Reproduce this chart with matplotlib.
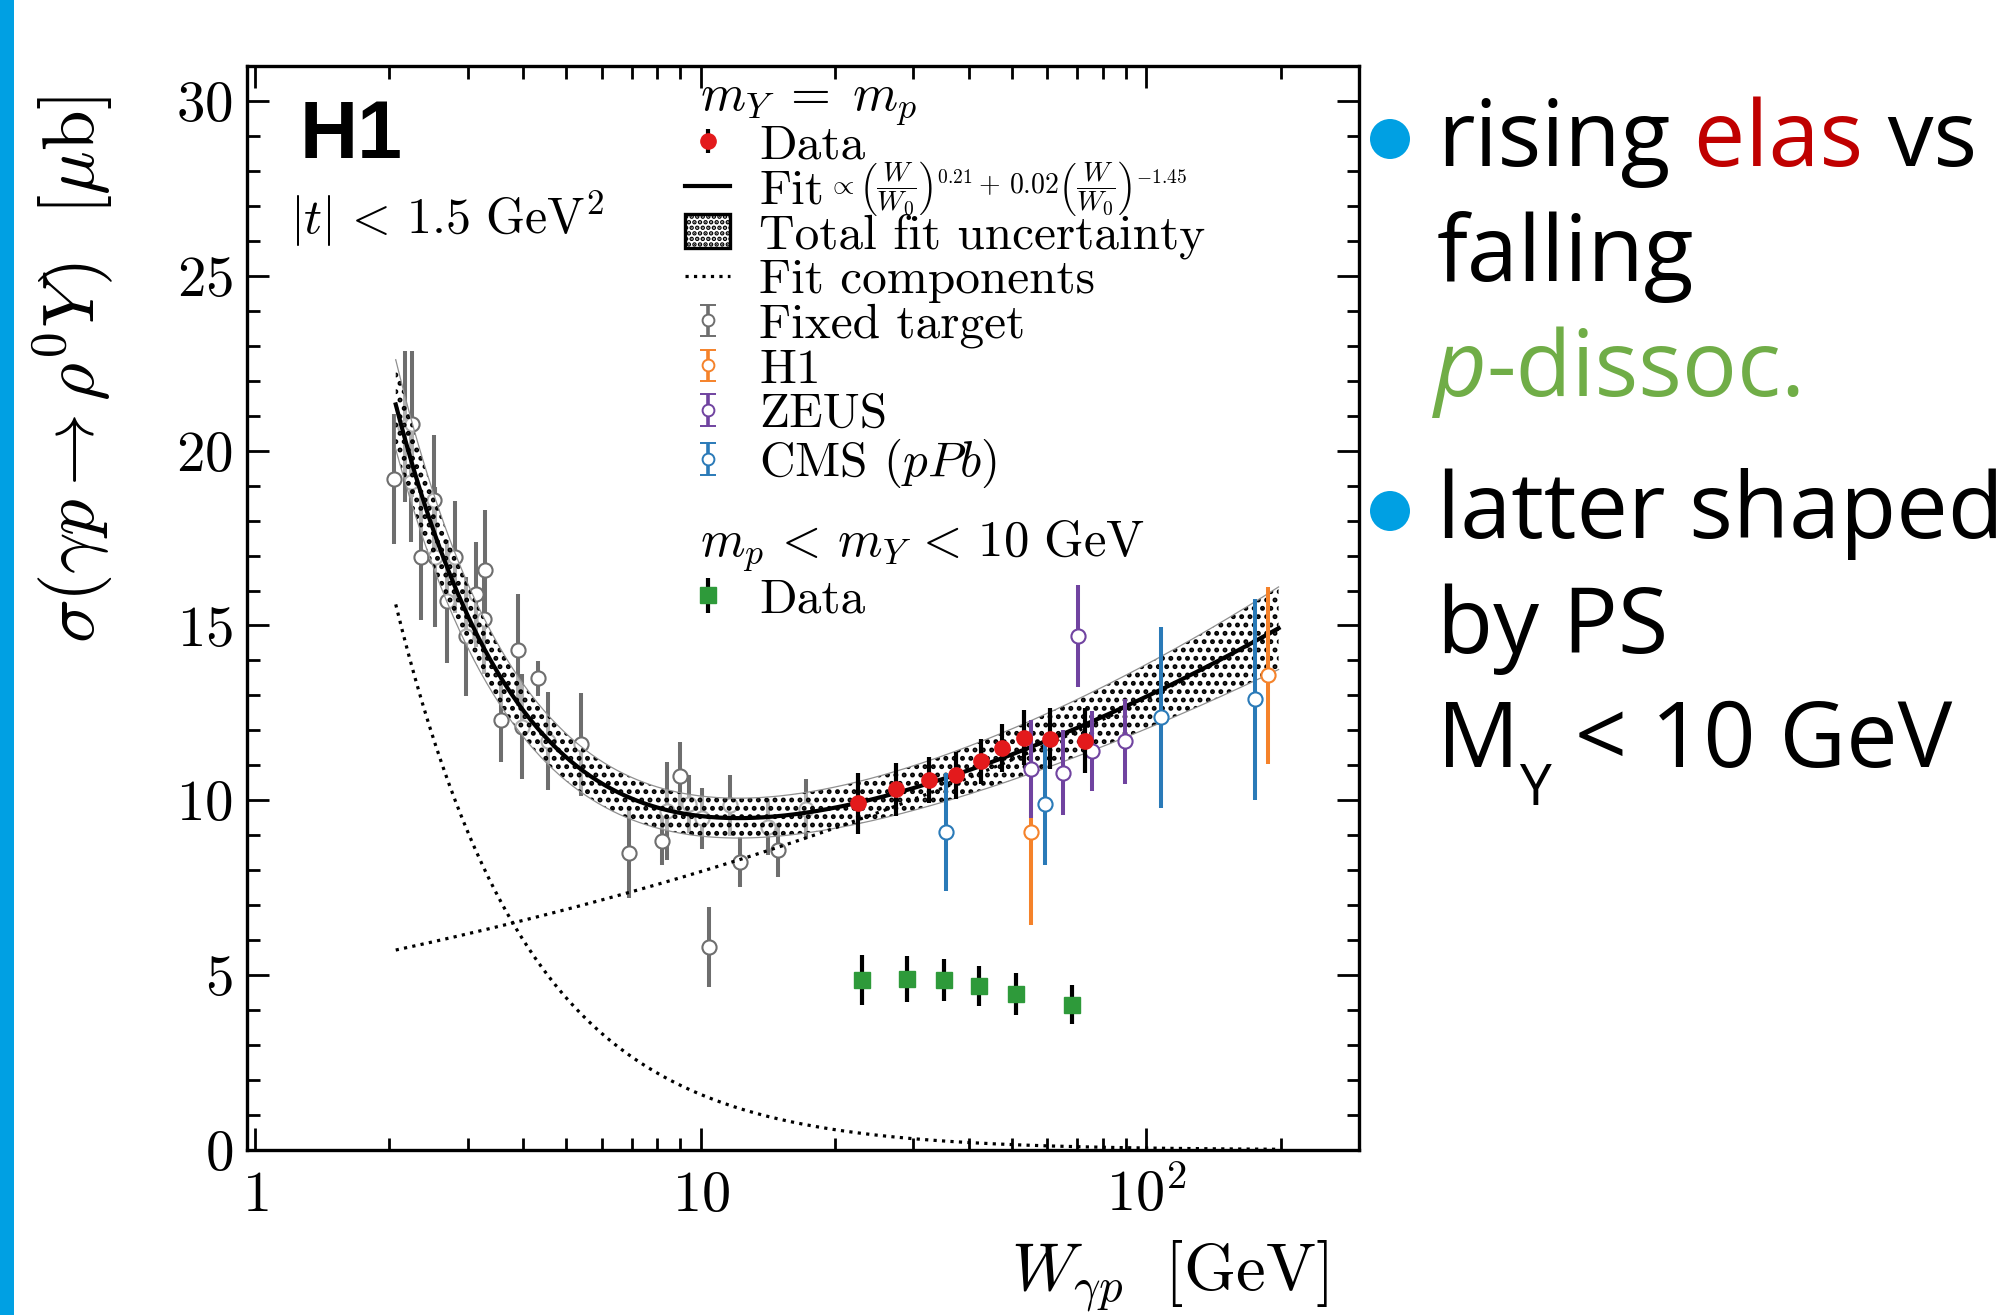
import numpy as np
import matplotlib
matplotlib.use("Agg")
import matplotlib.pyplot as plt
import matplotlib.patches as mpatches
from matplotlib.text import Annotation
from matplotlib.legend_handler import HandlerErrorbar
from matplotlib.ticker import FixedLocator, LogLocator, MultipleLocator, NullFormatter

# ---------------- data ----------------
# fixed-target measurements
ft_W = [2.05, 2.17, 2.25, 2.24, 2.36, 2.52, 2.53, 2.70, 2.81, 2.97,
        3.13, 3.26, 3.29, 3.57, 3.89, 3.98, 4.32, 4.55, 5.40, 6.90,
        8.19, 8.40, 8.97, 9.44, 10.06, 10.42, 11.63, 12.23, 14.2, 14.9, 17.2]
ft_sig = [19.19, 20.68, 20.76, 19.10, 16.97, 18.59, 16.97, 15.69, 16.97, 14.69,
          15.89, 15.19, 16.59, 12.30, 14.29, 12.10, 13.49, 11.70, 11.60, 8.49,
          8.83, 9.70, 10.69, 9.90, 9.49, 5.81, 9.86, 8.24, 9.24, 8.59, 9.76]
ft_err = [1.85, 2.16, 2.08, 1.72, 1.80, 1.85, 2.00, 1.76, 1.60, 1.70,
          1.50, 1.57, 1.70, 1.20, 1.60, 1.50, 0.50, 1.40, 1.48, 1.28,
          0.68, 1.40, 0.98, 0.83, 0.87, 1.14, 0.87, 0.72, 0.80, 0.77, 0.86]

# H1 (earlier) measurements
h1old_W = [55.0, 187.0]
h1old_sig = [9.10, 13.57]
h1old_err = [2.67, 2.52]

# ZEUS measurements
zeus_W = [55.0, 64.9, 70.2, 75.4, 89.7]
zeus_sig = [10.90, 10.79, 14.69, 11.41, 11.69]
zeus_err = [1.40, 1.21, 1.46, 1.14, 1.22]

# CMS (pPb) measurements
cms_W = [35.6, 59.1, 107.9, 175.5]
cms_sig = [9.10, 9.89, 12.38, 12.89]
cms_err = [1.68, 1.74, 2.59, 2.88]

# this analysis, elastic (m_Y = m_p)
el_W = [22.6, 27.5, 32.5, 37.4, 42.6, 47.5, 53.1, 60.9, 73.0]
el_sig = [9.92, 10.31, 10.57, 10.71, 11.12, 11.50, 11.79, 11.76, 11.71]
el_err = [0.87, 0.77, 0.66, 0.67, 0.64, 0.69, 0.79, 0.87, 0.93]

# this analysis, proton dissociative (m_p < m_Y < 10 GeV)
pd_W = [23.0, 29.1, 35.1, 42.1, 51.0, 68.0]
pd_sig = [4.86, 4.89, 4.86, 4.69, 4.46, 4.16]
pd_err = [0.71, 0.66, 0.60, 0.57, 0.59, 0.55]

# fit model (from the legend): N[(W/W0)^0.21 + 0.02 (W/W0)^-1.45]
FIT_NORM = 10.65
FIT_W0 = 40.0
FIT_EXP_RISE = 0.21
FIT_FRAC = 0.02
FIT_EXP_FALL = -1.45
FIT_WMIN, FIT_WMAX = 2.07, 198.0
BAND_REL0, BAND_SLOPE, BAND_PIVOT = 0.06, 0.020, 15.0

x_ticks = [1, 10, 100]
x_ticklabels = [r'$1$', r'$10$', r'$10^2$']

# ---------------- style ----------------
GRAY = '#6e6e6e'
RED = '#e31a1c'
GREEN = '#2e9a3a'
ORANGE = '#f5822a'
PURPLE = '#7043a0'
BLUE = '#2a7ab8'
SLIDE_BLUE = '#00a0e3'

plt.rcParams['mathtext.fontset'] = 'cm'
plt.rcParams['font.family'] = ['cmr10', 'DejaVu Serif']
plt.rcParams['axes.unicode_minus'] = False
plt.rcParams['axes.formatter.use_mathtext'] = True
plt.rcParams['hatch.linewidth'] = 2.3

FW, FH = 2005, 1315
fig = plt.figure(figsize=(FW / 100, FH / 100), dpi=100)
fig.patch.set_facecolor('white')

def fx(px):
    return px / FW

def fy(py):
    return 1 - py / FH

AX_L, AX_R, AX_T, AX_B = 247, 1359, 66, 1150
ax = fig.add_axes([fx(AX_L), fy(AX_B), (AX_R - AX_L) / FW, (AX_B - AX_T) / FH])

def axx(px):
    return (px - AX_L) / (AX_R - AX_L)

def axy(py):
    return (AX_B - py) / (AX_B - AX_T)

# left slide bar
fig.add_artist(mpatches.Rectangle((0, 0), fx(14), 1, transform=fig.transFigure,
                                  color=SLIDE_BLUE, lw=0))

# ---------------- fit curves ----------------
fit_W = np.logspace(np.log10(FIT_WMIN), np.log10(FIT_WMAX), 400)
xr = fit_W / FIT_W0
comp_rise = FIT_NORM * xr ** FIT_EXP_RISE
comp_fall = FIT_NORM * FIT_FRAC * xr ** FIT_EXP_FALL
fit_tot = comp_rise + comp_fall
rel = np.hypot(BAND_REL0, BAND_SLOPE * np.clip(np.log(fit_W / BAND_PIVOT), 0, None))
band_lo = fit_tot * (1 - rel)
band_hi = fit_tot * (1 + rel)

EB = dict(fmt='o', capsize=0, elinewidth=2.9)
MS_OPEN = 10.2

# fixed target (under the band)
ax.errorbar(ft_W, ft_sig, yerr=ft_err, ms=MS_OPEN, mfc='white', mec=GRAY, mew=1.5,
            ecolor=GRAY, zorder=2, **EB)

# uncertainty band
ax.fill_between(fit_W, band_lo, band_hi, facecolor=(1, 1, 1, 0.45), edgecolor='black',
                hatch='..', linewidth=0, zorder=3)
ax.plot(fit_W, band_lo, color='#909090', lw=0.9, zorder=3)
ax.plot(fit_W, band_hi, color='#909090', lw=0.9, zorder=3)

# fit components
comp_line, = ax.plot(fit_W, comp_rise, ls=':', color='black', lw=2.3, zorder=4)
ax.plot(fit_W, comp_fall, ls=':', color='black', lw=2.3, zorder=4)
# total fit
fit_line, = ax.plot(fit_W, fit_tot, color='black', lw=3.0, zorder=5)

# other experiments
ax.errorbar(h1old_W, h1old_sig, yerr=h1old_err, ms=MS_OPEN, mfc='white', mec=ORANGE,
            mew=1.5, ecolor=ORANGE, zorder=6, **EB)
ax.errorbar(zeus_W, zeus_sig, yerr=zeus_err, ms=MS_OPEN, mfc='white', mec=PURPLE,
            mew=1.5, ecolor=PURPLE, zorder=6, **EB)
ax.errorbar(cms_W, cms_sig, yerr=cms_err, ms=MS_OPEN, mfc='white', mec=BLUE,
            mew=1.5, ecolor=BLUE, zorder=6, **EB)

# this measurement
el_cont = ax.errorbar(el_W, el_sig, yerr=el_err, fmt='o', ms=11.0, mfc=RED, mec=RED,
                      ecolor='black', elinewidth=3.0, capsize=0, zorder=7)
pd_cont = ax.errorbar(pd_W, pd_sig, yerr=pd_err, fmt='s', ms=11.2, mfc=GREEN, mec=GREEN,
                      ecolor='black', elinewidth=3.0, capsize=0, zorder=7)

# legend proxies with caps
def proxy(col):
    return ax.errorbar([np.nan], [np.nan], yerr=[np.nan], fmt='o', ms=8.5, mfc='white',
                       mec=col, mew=1.4, ecolor=col, elinewidth=2.6, capsize=5.6,
                       capthick=2.6)

ft_p = proxy(GRAY)
h1_p = proxy(ORANGE)
zeus_p = proxy(PURPLE)
cms_p = proxy(BLUE)
band_p = mpatches.Patch(facecolor='white', edgecolor='black', hatch='...', lw=2.4)

# ---------------- axes formatting ----------------
ax.set_xscale('log')
ax.set_xlim(0.96, 300)
ax.set_ylim(0, 31)
ax.xaxis.set_major_locator(FixedLocator(x_ticks))
ax.set_xticklabels(x_ticklabels)
ax.xaxis.set_minor_locator(LogLocator(base=10, subs=np.arange(2, 10)))
ax.xaxis.set_minor_formatter(NullFormatter())
ax.yaxis.set_major_locator(MultipleLocator(5))
ax.yaxis.set_minor_locator(MultipleLocator(1))
ax.tick_params(which='both', direction='in', top=True, right=True, width=2.0)
ax.tick_params(which='major', length=16)
ax.tick_params(which='minor', length=9)
ax.tick_params(axis='y', labelsize=41, pad=10)
ax.tick_params(axis='x', labelsize=42, pad=44)
for lab in ax.get_xticklabels():
    lab.set_verticalalignment('baseline')
for sp in ax.spines.values():
    sp.set_linewidth(2.4)

ax.text(axx(73), axy(96), r'$\sigma(\gamma p \rightarrow \rho^0 Y)\ \ [\mu\mathrm{b}]$',
        transform=ax.transAxes, rotation=90, ha='center', va='top', fontsize=52.5)
ax.text(axx(1328), axy(1290), r'$W_{\gamma p}\ \ [\mathrm{GeV}]$', transform=ax.transAxes,
        ha='right', va='baseline', fontsize=48)

ax.text(axx(300), axy(158), 'H1', transform=ax.transAxes, ha='left', va='baseline',
        fontsize=58, fontweight='bold', family='Liberation Sans')
ax.text(axx(290), axy(234), r'$|t|\,<\,1.5\ \mathrm{GeV}^2$', transform=ax.transAxes,
        ha='left', va='baseline', fontsize=36)

# ---------------- legends ----------------
LEG_FS = 35.5
LEG = dict(loc='upper left', frameon=False, borderpad=0, borderaxespad=0,
           handlelength=0.92, handletextpad=0.59, labelspacing=0.0,
           prop=dict(size=LEG_FS))
leg1 = ax.legend([el_cont, fit_line, band_p, comp_line, ft_p, h1_p, zeus_p, cms_p],
                 ['Data', 'Fit', 'Total fit uncertainty', 'Fit components', 'Fixed target',
                  'H1', 'ZEUS', r'CMS ($pPb$)'],
                 bbox_to_anchor=(axx(685), axy(124)),
                 handler_map={el_cont: HandlerErrorbar(yerr_size=0.24),
                              ft_p: HandlerErrorbar(yerr_size=0.32),
                              h1_p: HandlerErrorbar(yerr_size=0.32),
                              zeus_p: HandlerErrorbar(yerr_size=0.32),
                              cms_p: HandlerErrorbar(yerr_size=0.32)},
                 **LEG)
ax.add_artist(leg1)
leg2 = ax.legend([pd_cont], ['Data'], bbox_to_anchor=(axx(685), axy(578)),
                 handler_map={pd_cont: HandlerErrorbar(yerr_size=0.36)}, **LEG)

ax.text(axx(700), axy(110), r'$m_Y\;=\;m_p$', transform=ax.transAxes, ha='left',
        va='baseline', fontsize=37)
ax.text(axx(700), axy(556), r'$m_p\,<\,m_Y\,<\,10\ \mathrm{GeV}$', transform=ax.transAxes,
        ha='left', va='baseline', fontsize=36.5)

fit_txt = leg1.get_texts()[1]
fa = Annotation(r'$\propto\left(\dfrac{W}{W_0}\right)^{0.21}+\,0.02\left(\dfrac{W}{W_0}\right)^{-1.45}$',
                xy=(1, 0.5), xycoords=fit_txt, xytext=(4, 2), textcoords='offset pixels',
                ha='left', va='center', fontsize=20)
fig.add_artist(fa)

# ---------------- slide text on the right ----------------
RT_FONT = 'Open Sans'
RT_SIZE = 66
TX = 1437

def chain(prev, s, color, style='normal', size=RT_SIZE, dy=0, yref=None):
    a = Annotation(s, xy=(1, 0), xycoords=(prev, yref if yref is not None else prev),
                   xytext=(0, dy), textcoords='offset pixels', ha='left', va='bottom',
                   fontsize=size, family=RT_FONT, color=color, style=style)
    fig.add_artist(a)
    return a

t1 = fig.text(fx(TX), fy(166), 'rising', family=RT_FONT, fontsize=RT_SIZE, va='baseline')
t1b = chain(t1, ' elas', '#c00000')
chain(t1b, ' vs', 'black')
fig.text(fx(TX), fy(281), 'falling', family=RT_FONT, fontsize=RT_SIZE, va='baseline')
t3 = fig.text(fx(TX - 3), fy(396), 'p', family=RT_FONT, fontsize=RT_SIZE, va='baseline',
              color='#70ad47', style='italic')
chain(t3, '-dissoc.', '#70ad47')
fig.text(fx(TX), fy(538), 'latter shaped', family=RT_FONT, fontsize=RT_SIZE, va='baseline')
fig.text(fx(TX), fy(653), 'by PS', family=RT_FONT, fontsize=RT_SIZE, va='baseline')
t6 = fig.text(fx(TX), fy(767), 'M', family=RT_FONT, fontsize=RT_SIZE, va='baseline')
t6y = chain(t6, 'Y', 'black', size=RT_SIZE * 0.62, dy=-30)
chain(t6y, ' < 10 GeV', 'black', yref=t6)

for by in (139, 511):
    fig.add_artist(mpatches.Ellipse((fx(1390), fy(by)), 40 / FW, 40 / FH,
                                    transform=fig.transFigure, color=SLIDE_BLUE, lw=0))

fig.savefig('out.png', dpi=100)
